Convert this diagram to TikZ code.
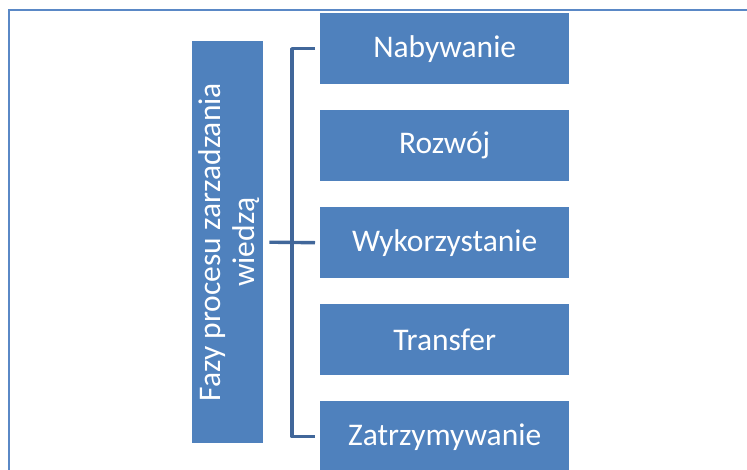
\documentclass[tikz,border=0pt]{standalone}
\usepackage{fontspec}
\setmainfont{Carlito}
\definecolor{boxblue}{HTML}{4F81BD}
\definecolor{framblue}{HTML}{5A88C6}
\definecolor{linkblue}{HTML}{41679A}
\tikzset{
  phase/.style={fill=boxblue, draw=none, minimum width=249pt, minimum height=71pt,
    inner sep=0pt, text=white, font=\fontsize{31.5}{34}\selectfont, anchor=north west},
  link/.style={draw=linkblue, line width=3.4pt}
}
\begin{document}
\begin{tikzpicture}[x=1pt, y=-1pt]
  \useasboundingbox (0,0) rectangle (747,469);
  \clip (0,0) rectangle (747,469);
  % outer frame
  \draw[framblue, line width=2pt] (9,10) rectangle (760,480);
  % title column
  \node[fill=boxblue, minimum width=71pt, minimum height=402pt, inner sep=0pt,
        anchor=north west] (title) at (192,41) {};
  \node[rotate=90, text=white, align=center, font=\fontsize{31.5}{34}\selectfont]
        (titletext) at ([xshift=1pt]title.center) {Fazy procesu zarzadzania\\wiedzą};
  % phases
  \node[phase] (p1) at (320,13)  {Nabywanie};
  \node[phase] (p2) at (320,110) {Rozwój};
  \node[phase] (p3) at (320,207) {Wykorzystanie};
  \node[phase] (p4) at (320,304) {Transfer};
  \node[phase] (p5) at (320,401) {Zatrzymywanie};
  % bracket
  \coordinate (spine) at (292,0);
  \draw[link] ([xshift=6pt]title.east |- title.center) -- ([xshift=-5pt]p3.west);
  \draw[link, line join=round] ([xshift=-5pt]p1.west) -| (spine |- p1.west)
        -- (spine |- p5.west) -- ([xshift=-5pt]p5.west);
\end{tikzpicture}
\end{document}
